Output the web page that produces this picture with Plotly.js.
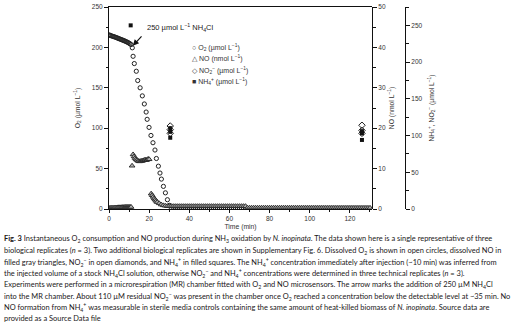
<!DOCTYPE html>
<html><head><meta charset="utf-8">
<script src="https://cdn.plot.ly/plotly-3.0.1.min.js"></script>
<style>html,body{margin:0;padding:0;background:#fff;}#chart{width:513px;height:323px;}</style>
</head><body><div id="chart"></div>
<script>
// O2 (µmol/L) vs time (min)
var o2Time = [0,0.5,1,1.5,2,2.5,3,3.5,4,4.5,5,5.5,6,6.5,7,7.5,8,8.5,9,9.5,10,10.5,11,11.6,12.0,12.6,13.6,14.3,15.5,16.6,17.6,18.5,19.0,19.95,20.9,21.9,22.9,23.6,24.6,25.4,26.1,27.1,28.1,29.1,30.1,
  31,32,33,34,35,36,37,38,39,40,41,42,43,44,45,46,47,48,49,50,51,52,53,54,55,56,57,58,59,60,61,62,63,64,65,66,67,68,69,70,71,72,73,74,75,76,77,78,79,80,81,82,83,84,85,86,87,88,89,90,91,92,93,94,95,96,97,98,99,100,101,102,103,104,105,106,107,108,109,110,111,112,113,114,115,116,117,118,119,120,121,122,123,124,125,126,127,128,129,130];
var o2Values = [215.5,215,214.5,214,213.6,213.2,212.8,212.3,211.8,211.3,210.8,210.3,209.8,209.3,208.8,208.3,207.8,207.2,206.6,206,205.2,204.4,203.5,199.5,189,180,170.5,159,150,140,130,120,111,101,91,82,73,62.5,53,44.5,37,28,20,11.5,4.5,
  0,0,0,0,0,0,0,0,0,0,0,0,0,0,0,0,0,0,0,0,0,0,0,0,0,0,0,0,0,0,0,0,0,0,0,0,0,0,0,0,0,0,0,0,0,0,0,0,0,0,0,0,0,0,0,0,0,0,0,0,0,0,0,0,0,0,0,0,0,0,0,0,0,0,0,0,0,0,0,0,0,0,0,0,0,0,0,0,0,0,0,0,0,0,0,0,0,0,0,0];
// NO (nmol/L)
var noTime = [0,0.5,1,1.5,2,2.5,3,3.5,4,4.5,5,5.5,6,6.5,7,7.5,8,8.5,9,9.5,10,10.5,11,
  11.5,12,12.5,13,13.5,14,14.5,15,15.5,16,16.5,17,17.5,18,18.5,19,19.5,20,
  21,21.5,22,22.5,23,23.5,24,25,26,27,28,29,30,
  31,32,33,34,35,36,37,38,39,40,41,42,43,44,45,46,47,48,49,50,51,52,53,54,55,56,57,58,59,60,61,62,63,64,65,66,67,68,69,70,71,72,73,74,75,76,77,78,79,80,81,82,83,84,85,86,87,88,89,90,91,92,93,94,95,96,97,98,99,100,101,102,103,104,105,106,107,108,109,110,111,112,113,114,115,116,117,118,119,120,121,122,123,124,125,126,127,128,129,130];
var noValues = [0.25,0.25,0.3,0.3,0.3,0.3,0.35,0.35,0.35,0.4,0.4,0.4,0.4,0.45,0.45,0.45,0.5,0.5,0.5,0.5,0.5,0.5,0.5,
  10.7,13.5,13.0,12.6,12.3,12.1,11.9,11.8,11.8,11.9,11.9,12.0,12.1,12.2,12.1,12.2,12.4,12.3,
  3.8,3.4,3.0,2.6,2.3,2.0,1.7,1.4,1.1,0.9,0.8,0.7,0.7,
  0.7,0.7,0.7,0.7,0.7,0.7,0.7,0.7,0.7,0.7,0.7,0.7,0.7,0.7,0.7,0.7,0.7,0.7,0.7,0.7,0.7,0.7,0.7,0.7,0.7,0.7,0.7,0.7,0.7,0.7,0.7,0.7,0.7,0.7,0.7,0.7,0.7,0.7,
  0.3,0.3,0.3,0.3,0.3,0.3,0.3,0.3,0.3,0.3,0.3,0.3,0.3,0.3,0.3,0.3,0.3,0.3,0.3,0.3,0.3,0.3,0.3,0.3,0.3,0.3,0.3,0.3,0.3,0.3,0.3,0.3,0.3,0.3,0.3,0.3,0.3,0.3,0.3,0.3,0.3,0.3,0.3,0.3,0.3,0.3,0.3,0.3,0.3,0.3,0.3,0.3,0.3,0.3,0.3,0.3,0.3,0.3,0.3,0.3,0.3,0.3];
// NO2- (µmol/L), technical replicates
var nitriteTime = [30.5,30.5,30.5,126,126,126];
var nitriteValues = [113,108,103,114,107,103];
// NH4+ (µmol/L)
var ammoniumTime = [10.8,30.5,30.5,30.5,126,126,126];
var ammoniumValues = [250,110,105,97,106,103,94];

var xTicks = [0,20,40,60,80,100,120];

var captionLines = [
  "<b>Fig. 3</b> Instantaneous O<sub>2</sub> consumption and NO production during NH<sub>3</sub> oxidation by <i>N. inopinata</i>. The data shown here is a single representative of three",
  "biological replicates (<i>n</i> = 3). Two additional biological replicates are shown in Supplementary Fig. 6. Dissolved O<sub>2</sub> is shown in open circles, dissolved NO in",
  "filled gray triangles, NO<sub>2</sub><sup>−</sup> in open diamonds, and NH<sub>4</sub><sup>+</sup> in filled squares. The NH<sub>4</sub><sup>+</sup> concentration immediately after injection (~10 min) was inferred from",
  "the injected volume of a stock NH<sub>4</sub>Cl solution, otherwise NO<sub>2</sub><sup>−</sup> and NH<sub>4</sub><sup>+</sup> concentrations were determined in three technical replicates (<i>n</i> = 3).",
  "Experiments were performed in a microrespiration (MR) chamber fitted with O<sub>2</sub> and NO microsensors. The arrow marks the addition of 250 µM NH<sub>4</sub>Cl",
  "into the MR chamber. About 110 µM residual NO<sub>2</sub><sup>−</sup> was present in the chamber once O<sub>2</sub> reached a concentration below the detectable level at ~35 min. No",
  "NO formation from NH<sub>4</sub><sup>+</sup> was measurable in sterile media controls containing the same amount of heat-killed biomass of <i>N. inopinata</i>. Source data are",
  "provided as a Source Data file"
];
var legendLabels = [
  "○ O<sub>2</sub> (µmol L<sup>−1</sup>)",
  "△ NO (nmol L<sup>−1</sup>)",
  "◇ NO<sub>2</sub><sup>−</sup> (µmol L<sup>−1</sup>)",
  "■ NH<sub>4</sub><sup>+</sup> (µmol L<sup>−1</sup>)"
];

var ink = '#222';
var traces = [
  {x: noTime, y: noValues, yaxis: 'y2', type: 'scatter', mode: 'markers', name: 'NO',
   marker: {symbol: 'triangle-up', size: 5, color: '#b0b0b0', line: {color: '#222', width: 0.9}}},
  {x: o2Time, y: o2Values, yaxis: 'y', type: 'scatter', mode: 'markers', name: 'O2',
   marker: {symbol: 'circle-open', size: 4.2, color: ink, line: {width: 1}}},
  {x: nitriteTime, y: nitriteValues, yaxis: 'y3', type: 'scatter', mode: 'markers', name: 'NO2-',
   marker: {symbol: 'diamond-open', size: 5, color: ink, line: {width: 1}}},
  {x: ammoniumTime, y: ammoniumValues, yaxis: 'y3', type: 'scatter', mode: 'markers', name: 'NH4+',
   marker: {symbol: 'square', size: 4, color: '#111'}}
];

var W = 341, H = 202, L = 109, T = 7;
function px(xp){ return (xp - L) / W; }
function py(yp){ return (T + H - yp) / H; }

var annotations = [];
captionLines.forEach(function(t, i){
  annotations.push({text: t, xref: 'paper', yref: 'paper', x: px(2), y: py(239.5 + i*11.3),
    xanchor: 'left', yanchor: 'middle', showarrow: false, align: 'left',
    font: {family: 'Lato, sans-serif', size: 7.45, color: '#1a1718'}});
});
legendLabels.forEach(function(t, i){
  annotations.push({text: t, xref: 'paper', yref: 'paper', x: px(190), y: py(47.7 + i*11.2),
    xanchor: 'left', yanchor: 'middle', showarrow: false, align: 'left',
    font: {family: 'Liberation Sans, Arial, sans-serif', size: 7, color: '#333'}});
});
annotations.push({text: '', x: 11.9, y: 202, xref: 'x', yref: 'y', showarrow: true,
  ax: 10, ay: -11, arrowhead: 2, arrowsize: 1, arrowwidth: 1.2, arrowcolor: '#111'});
annotations.push({text: '250 µmol L<sup>−1</sup> NH<sub>4</sub>Cl', xref: 'paper', yref: 'paper',
  x: px(145), y: py(28), xanchor: 'left', yanchor: 'middle', showarrow: false,
  font: {family: 'Liberation Sans, Arial, sans-serif', size: 7.5, color: '#222'}});

var tickFont = {family: 'Liberation Sans, Arial, sans-serif', size: 6.5, color: '#333'};
var titleFont = {family: 'Liberation Sans, Arial, sans-serif', size: 6.8, color: '#333'};
var axisCommon = {showgrid: false, zeroline: false, showline: true, linecolor: '#111', linewidth: 1,
  ticks: 'outside', ticklen: 4, tickcolor: '#111', tickwidth: 1, tickfont: tickFont};

var layout = {
  width: 513, height: 323,
  margin: {l: L, r: 513 - L - W, t: T, b: 323 - T - H, pad: 0},
  paper_bgcolor: '#fff', plot_bgcolor: '#fff',
  showlegend: false,
  xaxis: Object.assign({}, axisCommon, {domain: [0, 263/W], range: [0, 131], tickvals: xTicks,
    ticklen: 3, mirror: true,
    minor: {dtick: 10, tick0: 0, ticks: 'outside', ticklen: 2, tickcolor: '#111'},
    title: {text: 'Time (min)', font: titleFont, standoff: 3}}),
  yaxis: Object.assign({}, axisCommon, {range: [0, 250], dtick: 50,
    minor: {dtick: 25, ticks: 'outside', ticklen: 2.5, tickcolor: '#111'},
    title: {text: 'O<sub>2</sub> (µmol L<sup>−1</sup>)', font: titleFont, standoff: 10}}),
  yaxis2: Object.assign({}, axisCommon, {overlaying: 'y', side: 'right', anchor: 'free', position: 263/W,
    range: [0, 50], dtick: 10,
    minor: {dtick: 5, ticks: 'outside', ticklen: 2.5, tickcolor: '#111'},
    title: {text: 'NO (nmol L<sup>−1</sup>)', font: titleFont, standoff: 4}}),
  yaxis3: Object.assign({}, axisCommon, {overlaying: 'y', side: 'right', anchor: 'free', position: (405 - L)/W,
    range: [0, 275], dtick: 50,
    minor: {dtick: 25, ticks: 'outside', ticklen: 2.5, tickcolor: '#111'},
    title: {text: 'NH<sub>4</sub><sup>+</sup>, NO<sub>2</sub><sup>−</sup> (µmol L<sup>−1</sup>)', font: titleFont, standoff: 7}}),
  annotations: annotations
};

Plotly.newPlot('chart', traces, layout, {displayModeBar: false, staticPlot: true});
</script>
</body></html>
